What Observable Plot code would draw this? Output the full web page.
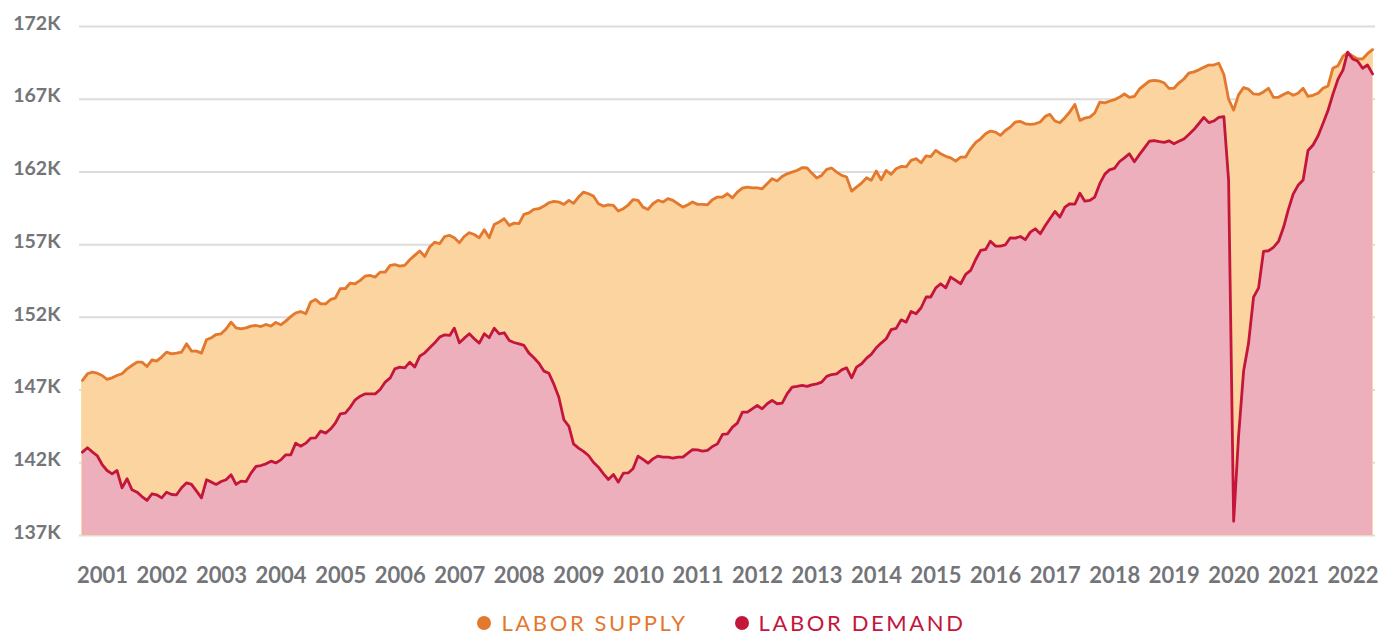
<!DOCTYPE html>
<html>
<head>
<meta charset="utf-8">
<script src="https://cdn.jsdelivr.net/npm/d3@7"></script>
<script src="https://cdn.jsdelivr.net/npm/@observablehq/plot@0.6"></script>
<style>
  html, body { margin: 0; padding: 0; background: #ffffff; }
  body { width: 1393px; height: 633px; overflow: hidden; font-family: Lato, "Open Sans", sans-serif; }
  #chart svg { display: block; }
  #legend { box-sizing: border-box; display: flex; justify-content: center; align-items: flex-start; height: 35px; padding-top: 15.5px; padding-left: 50px; font-size: 22px; line-height: 18px; letter-spacing: 2.6px; }
  .item { display: flex; align-items: center; height: 18px; }
  .item + .item { margin-left: 47px; }
  .dot { width: 14px; height: 14px; border-radius: 50%; margin-right: 10px; }
</style>
</head>
<body>
<div id="chart"></div>
<div id="legend"></div>
<script>
// Monthly series, first month = December 2000, last = August 2022 (values in K as labelled)
const startYear = 2000;
const startMonth = 11; // December (0-based)

const laborSupply = [
  147.66, 148.12, 148.23, 148.16, 148.00, 147.73, 147.84, 148.00, 148.12, 148.46,
  148.69, 148.92, 148.92, 148.62, 149.08, 148.99, 149.27, 149.61, 149.49, 149.54,
  149.61, 150.18, 149.68, 149.68, 149.54, 150.46, 150.60, 150.82, 150.87, 151.20,
  151.67, 151.28, 151.21, 151.28, 151.40, 151.44, 151.37, 151.51, 151.40, 151.65,
  151.49, 151.74, 152.05, 152.30, 152.40, 152.25, 153.05, 153.23, 152.93, 152.93,
  153.23, 153.32, 153.97, 153.97, 154.36, 154.31, 154.54, 154.84, 154.88, 154.77,
  155.11, 155.11, 155.57, 155.62, 155.52, 155.57, 155.96, 156.26, 156.56, 156.19,
  156.83, 157.17, 157.06, 157.56, 157.63, 157.47, 157.13, 157.56, 157.82, 157.70,
  157.47, 158.02, 157.47, 158.39, 158.55, 158.78, 158.32, 158.48, 158.44, 159.08,
  159.19, 159.42, 159.47, 159.65, 159.88, 159.97, 159.93, 159.77, 160.04, 159.84,
  160.27, 160.61, 160.50, 160.34, 159.81, 159.65, 159.74, 159.70, 159.31, 159.47,
  159.74, 160.09, 160.04, 159.58, 159.42, 159.81, 160.04, 159.93, 160.16, 160.04,
  159.81, 159.58, 159.74, 159.93, 159.77, 159.77, 159.74, 160.09, 160.27, 160.27,
  160.50, 160.22, 160.61, 160.89, 160.96, 160.91, 160.91, 160.84, 161.19, 161.53,
  161.37, 161.69, 161.87, 161.99, 162.10, 162.29, 162.27, 161.92, 161.58, 161.76,
  162.17, 162.27, 161.99, 161.76, 161.65, 160.68, 160.96, 161.23, 161.60, 161.42,
  162.06, 161.46, 162.10, 161.83, 162.22, 162.38, 162.34, 162.79, 162.91, 162.63,
  163.10, 163.05, 163.48, 163.25, 163.07, 162.97, 162.75, 163.02, 163.02, 163.59,
  164.01, 164.28, 164.63, 164.81, 164.74, 164.51, 164.85, 165.08, 165.43, 165.47,
  165.31, 165.27, 165.31, 165.43, 165.82, 165.96, 165.50, 165.38, 165.73, 166.12,
  166.64, 165.54, 165.70, 165.77, 166.05, 166.80, 166.75, 166.86, 166.97, 167.13,
  167.36, 167.13, 167.19, 167.69, 167.97, 168.25, 168.30, 168.25, 168.11, 167.75,
  167.75, 168.11, 168.39, 168.80, 168.88, 169.02, 169.19, 169.35, 169.35, 169.47,
  168.70, 167.00, 166.25, 167.30, 167.80, 167.69, 167.36, 167.33, 167.50, 167.75,
  167.13, 167.13, 167.33, 167.47, 167.27, 167.41, 167.75, 167.19, 167.27, 167.41,
  167.75, 167.91, 169.13, 169.30, 169.97, 170.19, 169.97, 169.77, 169.77, 170.13,
  170.41
];

const laborDemand = [
  142.73, 143.03, 142.73, 142.50, 141.88, 141.47, 141.24, 141.47, 140.28, 140.90,
  140.14, 139.98, 139.68, 139.41, 139.87, 139.80, 139.59, 139.98, 139.82, 139.80,
  140.28, 140.62, 140.51, 140.05, 139.59, 140.83, 140.67, 140.51, 140.71, 140.83,
  141.17, 140.51, 140.74, 140.71, 141.29, 141.75, 141.81, 141.93, 142.11, 141.99,
  142.20, 142.55, 142.55, 143.35, 143.14, 143.35, 143.69, 143.72, 144.18, 144.04,
  144.34, 144.73, 145.37, 145.41, 145.83, 146.33, 146.58, 146.74, 146.74, 146.74,
  147.04, 147.55, 147.84, 148.46, 148.58, 148.53, 148.92, 148.58, 149.33, 149.56,
  149.91, 150.25, 150.64, 150.80, 150.76, 151.26, 150.25, 150.57, 150.87, 150.53,
  150.23, 150.87, 150.60, 151.26, 150.87, 150.94, 150.41, 150.27, 150.18, 150.07,
  149.54, 149.22, 148.85, 148.30, 148.16, 147.39, 146.51, 144.96, 144.50, 143.30,
  143.01, 142.78, 142.50, 142.04, 141.70, 141.24, 140.85, 141.20, 140.67, 141.29,
  141.31, 141.59, 142.46, 142.23, 141.97, 142.27, 142.46, 142.39, 142.39, 142.32,
  142.39, 142.39, 142.66, 142.91, 142.89, 142.80, 142.85, 143.12, 143.30, 143.95,
  143.99, 144.45, 144.73, 145.48, 145.48, 145.71, 145.94, 145.71, 146.06, 146.29,
  146.06, 146.10, 146.74, 147.20, 147.25, 147.32, 147.25, 147.36, 147.43, 147.55,
  147.94, 148.07, 148.12, 148.39, 148.53, 147.84, 148.58, 148.81, 149.20, 149.45,
  149.91, 150.23, 150.53, 151.15, 151.24, 151.83, 151.67, 152.41, 152.25, 152.66,
  153.40, 153.40, 154.03, 154.31, 154.03, 154.77, 154.54, 154.31, 154.95, 155.23,
  155.96, 156.60, 156.67, 157.24, 156.90, 156.90, 156.99, 157.47, 157.45, 157.56,
  157.34, 157.86, 158.09, 157.75, 158.32, 158.78, 159.28, 158.89, 159.58, 159.81,
  159.79, 160.54, 159.99, 160.04, 160.27, 161.19, 161.85, 162.14, 162.25, 162.70,
  162.97, 163.25, 162.70, 163.19, 163.64, 164.11, 164.16, 164.08, 164.03, 164.14,
  163.94, 164.11, 164.27, 164.58, 164.91, 165.33, 165.75, 165.39, 165.50, 165.75,
  165.80, 161.44, 137.98, 143.81, 148.31, 150.20, 153.39, 154.03, 156.53, 156.58,
  156.81, 157.22, 158.19, 159.36, 160.47, 161.08, 161.44, 163.47, 163.85, 164.49,
  165.33, 166.24, 167.35, 168.38, 169.02, 170.24, 169.77, 169.63, 169.13, 169.35,
  168.74
];

const yTicks = [137, 142, 147, 152, 157, 162, 167, 172];
const yearLabels = d3.range(2001, 2023);

const seriesNames = ["LABOR SUPPLY", "LABOR DEMAND"];
const lineColors = ["#e3782f", "#c3163a"];
const fillColors = ["#fbd4a0", "#ecafbb"];

const rows = laborSupply.map((s, i) => ({
  date: new Date(Date.UTC(startYear, startMonth + i, 1)),
  supply: s,
  demand: laborDemand[i]
}));

const chart = Plot.plot({
  width: 1393,
  height: 598,
  marginLeft: 79,
  marginRight: 18,
  marginTop: 26,
  marginBottom: 63,
  style: { fontFamily: "Lato, sans-serif", fontWeight: 700, color: "#747579", background: "#ffffff" },
  x: { type: "utc", domain: [new Date(Date.UTC(2000, 10, 13)), new Date(Date.UTC(2022, 7, 19))] },
  y: { domain: [137, 172] },
  marks: [
    Plot.gridY(yTicks, { stroke: "#dcdcdc", strokeOpacity: 1, strokeWidth: 2 }),
    Plot.areaY(rows, { x: "date", y1: 137, y2: "supply", fill: fillColors[0], stroke: fillColors[0], strokeWidth: 1.5 }),
    Plot.areaY(rows, { x: "date", y1: 137, y2: "demand", fill: fillColors[1] }),
    Plot.lineY(rows, { x: "date", y: "supply", stroke: lineColors[0], strokeWidth: 2.8 }),
    Plot.lineY(rows, { x: "date", y: "demand", stroke: lineColors[1], strokeWidth: 2.8 }),
    Plot.axisY(yTicks, { tickSize: 0, tickPadding: 19, dy: -3, fontSize: 19.5, tickFormat: d => d + "K" }),
    Plot.axisX(yearLabels.map(y => new Date(Date.UTC(y, 0, 1))), {
      tickSize: 0, tickPadding: 32, dx: 15, fontSize: 22, tickFormat: d => String(d.getUTCFullYear())
    })
  ]
});
document.getElementById("chart").appendChild(chart);

const legend = document.getElementById("legend");
seriesNames.forEach((name, i) => {
  const item = document.createElement("div");
  item.className = "item";
  const dot = document.createElement("span");
  dot.className = "dot";
  dot.style.background = lineColors[i];
  const label = document.createElement("span");
  label.textContent = name;
  label.style.color = lineColors[i];
  item.appendChild(dot);
  item.appendChild(label);
  legend.appendChild(item);
});
</script>
</body>
</html>
